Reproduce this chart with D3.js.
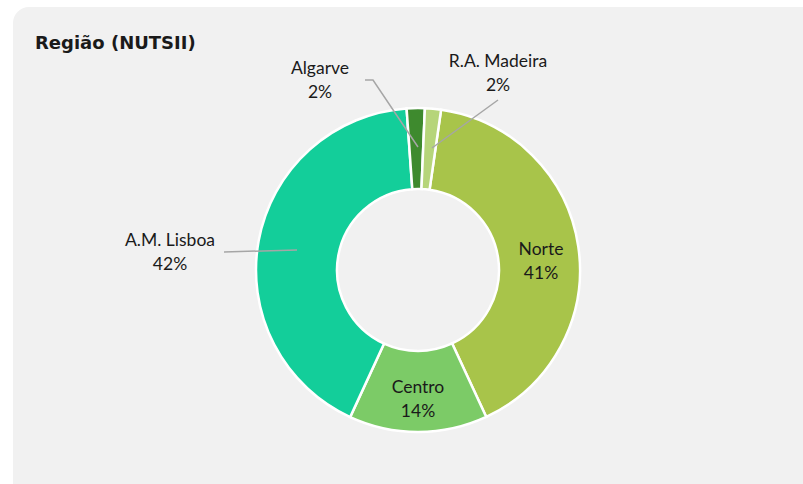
<!DOCTYPE html>
<html>
<head>
<meta charset="utf-8">
<script src="https://cdn.jsdelivr.net/npm/d3@7"></script>
<style>
html,body{margin:0;padding:0;background:#fff;}
svg{display:block;}
</style>
</head>
<body>
<svg id="chart" width="803" height="484"></svg>
<script>
const categories = ["Norte", "Centro", "A.M. Lisboa", "Algarve", "R.A. Madeira"];
const values = [40.8, 13.8, 42.0, 1.8, 1.6];
const colors = ["#A8C44A", "#7CCB67", "#13CE9A", "#3E8A2E", "#B6D57A"];
const title = "Região (NUTSII)";

const svg = d3.select("#chart");
svg.append("rect").attr("x", 13).attr("y", 7).attr("width", 810).attr("height", 500)
  .attr("rx", 16).attr("fill", "#f1f1f1");

svg.append("text").attr("x", 35).attr("y", 49).text(title)
  .attr("font-family", "DejaVu Sans").attr("font-weight", "bold")
  .attr("font-size", 18).attr("fill", "#1a1a1a");

const cx = 418, cy = 270, R = 162, r0 = 81;
const startDeg = 8.2;
const pie = d3.pie().sort(null)
  .startAngle(startDeg * Math.PI / 180)
  .endAngle((startDeg + 360) * Math.PI / 180);
const data = categories.map((c, i) => ({cat: c, v: values[i], color: colors[i]}));
const arcs = pie.value(d => d.v)(data);
const arc = d3.arc().innerRadius(r0).outerRadius(R);

const g = svg.append("g").attr("transform", `translate(${cx},${cy})`);
g.selectAll("path").data(arcs).join("path")
  .attr("d", arc).attr("fill", d => d.data.color)
  .attr("stroke", "#ffffff").attr("stroke-width", 2.5);

const fmt = v => Math.round(v) + "%";
const font = "Lato";
const fs = 17.5;

const labelPos = {
  "Norte": {x: 541, y: 255},
  "Centro": {x: 418, y: 393},
  "A.M. Lisboa": {x: 170, y: 246, line: [[224, 252], [297, 250]]},
  "Algarve": {x: 320, y: 74, line: [[365, 80], [373, 80], [418, 147]]},
  "R.A. Madeira": {x: 498, y: 67, line: [[498, 100], [432, 148]]}
};

arcs.forEach(a => {
  const p = labelPos[a.data.cat];
  if (p.line) {
    svg.append("path").attr("d", d3.line()(p.line))
      .attr("fill", "none").attr("stroke", "#a6a6a6").attr("stroke-width", 1.5);
  }
  const t = svg.append("text").attr("text-anchor", "middle")
    .attr("font-family", font).attr("font-size", fs).attr("fill", "#1a1a1a");
  t.append("tspan").attr("x", p.x).attr("y", p.y).text(a.data.cat);
  t.append("tspan").attr("x", p.x).attr("y", p.y + 23.5).text(fmt(a.data.v));
});
</script>
</body>
</html>
